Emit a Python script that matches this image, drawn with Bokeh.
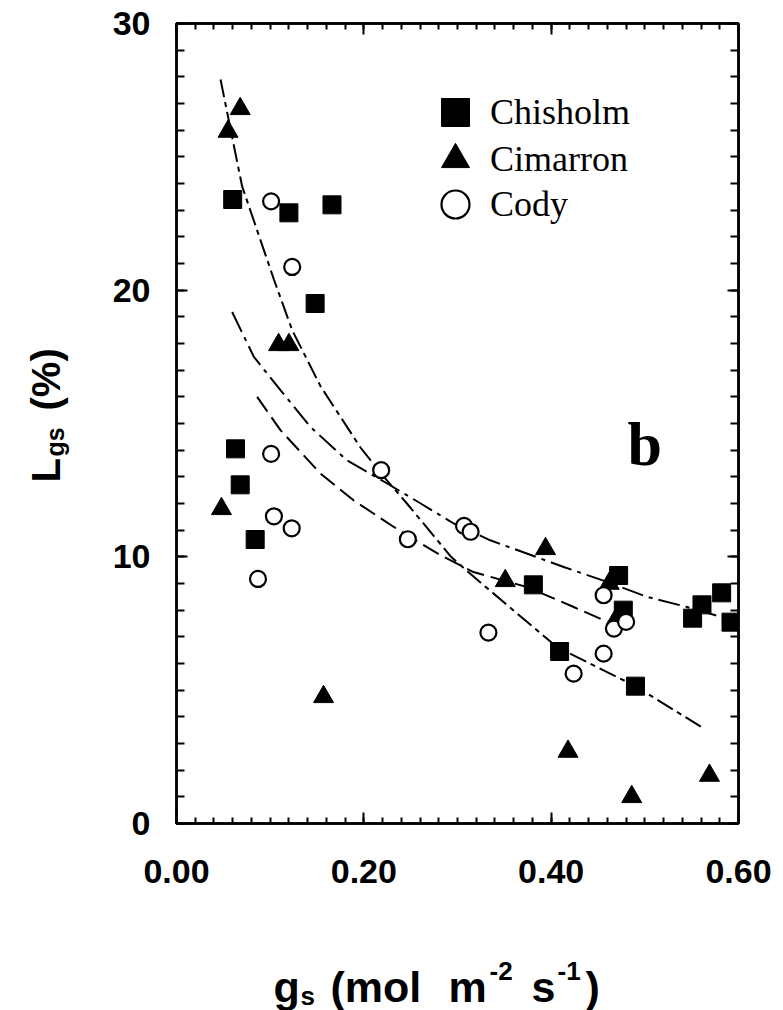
import math
from bokeh.plotting import figure
from bokeh.layouts import row, column
from bokeh.models import (Range1d, LinearAxis, SingleIntervalTicker, NumeralTickFormatter,
                          CustomJSTickFormatter, Label, Legend, LegendItem)
from bokeh.embed import file_html
from bokeh.resources import INLINE

# ---------------- data ----------------
chisholm_gs = [0.060, 0.120, 0.166, 0.148, 0.063, 0.068, 0.084, 0.381, 0.472, 0.477,
               0.409, 0.490, 0.551, 0.561, 0.582, 0.592]
chisholm_lgs = [23.4, 22.9, 23.2, 19.5, 14.05, 12.7, 10.65, 8.95, 9.3, 8.0,
                6.45, 5.15, 7.7, 8.2, 8.65, 7.55]

cimarron_gs = [0.068, 0.055, 0.109, 0.120, 0.048, 0.157, 0.351, 0.394, 0.462, 0.470,
               0.418, 0.486, 0.569]
cimarron_lgs = [26.8, 25.95, 17.95, 17.95, 11.8, 4.75, 9.1, 10.3, 9.0, 7.7,
                2.7, 1.0, 1.8]

cody_gs = [0.101, 0.1235, 0.101, 0.104, 0.123, 0.087, 0.2185, 0.247, 0.307, 0.314,
           0.333, 0.424, 0.456, 0.456, 0.467, 0.480]
cody_lgs = [23.33, 20.87, 13.86, 11.52, 11.07, 9.17, 13.25, 10.66, 11.16, 10.94,
            7.16, 5.62, 6.37, 8.56, 7.31, 7.56]

# fitted curves
fit_cimarron_gs = [0.047, 0.070, 0.104, 0.1235, 0.1537, 0.1964, 0.2178, 0.246, 0.2931,
                   0.3174, 0.406, 0.490, 0.563]
fit_cimarron_lgs = [27.9, 23.9, 20.4, 18.5, 16.4, 14.1, 13.15, 12.0, 10.0,
                    9.25, 6.62, 5.15, 3.56]

fit_chisholm_gs = [0.0594, 0.0826, 0.111, 0.143, 0.182, 0.225, 0.2607, 0.296, 0.335,
                   0.4134, 0.4597, 0.5024, 0.545, 0.5997]
fit_chisholm_lgs = [19.18, 17.5, 16.25, 14.87, 13.62, 12.75, 12.0, 11.25, 10.62,
                    9.62, 9.06, 8.5, 8.12, 7.56]

fit_cody_gs = [0.0861, 0.111, 0.1537, 0.189, 0.232, 0.2607, 0.282, 0.317, 0.374, 0.424, 0.46]
fit_cody_lgs = [16.0, 14.75, 13.12, 12.12, 11.12, 10.5, 10.06, 9.43, 8.87, 8.12, 7.56]

x_min, x_max = 0.0, 0.6
y_min, y_max = 0.0, 30.0
x_ticks_interval = 0.2
y_ticks_interval = 10

# ---------------- layout geometry (canvas pixels) ----------------
W, H = 783, 1010
LEFT_W = 90            # strip holding the y-axis title
MAIN_H = 900           # main figure height; strip below holds the x-axis title
FL, FR, FT, FB = 176, 45, 23, 823   # frame edges in canvas pixels (FR = right border)

TICK_FONT = "Liberation Sans"

p = figure(width=W - LEFT_W, height=MAIN_H, output_backend="svg", toolbar_location=None,
           x_range=Range1d(x_min, x_max + 1e-9), y_range=Range1d(y_min, y_max + 1e-9),
           x_axis_type=None, y_axis_type=None,
           min_border_left=FL - LEFT_W, min_border_right=FR, min_border_top=FT,
           min_border_bottom=MAIN_H - FB)
p.outline_line_color = "black"
p.outline_line_width = 2.5
p.background_fill_color = "white"
p.border_fill_color = "white"


def style_axis(ax, labelled, standoff):
    ax.major_tick_in = 11
    ax.major_tick_out = 0
    ax.minor_tick_in = 6
    ax.minor_tick_out = 0
    ax.axis_line_width = 2.5
    ax.axis_line_color = "black"
    ax.major_tick_line_width = 2
    ax.minor_tick_line_width = 2
    ax.major_tick_line_color = "black"
    ax.minor_tick_line_color = "black"
    ax.major_label_text_font = TICK_FONT
    ax.major_label_text_font_style = "bold"
    ax.major_label_text_font_size = "34px" if labelled else "1px"
    ax.major_label_text_color = "black"
    ax.major_label_standoff = standoff


xb = LinearAxis(ticker=SingleIntervalTicker(interval=x_ticks_interval, num_minor_ticks=10),
                formatter=NumeralTickFormatter(format="0.00"))
style_axis(xb, True, 36)
p.add_layout(xb, "below")

xt = LinearAxis(ticker=SingleIntervalTicker(interval=x_ticks_interval, num_minor_ticks=10),
                formatter=CustomJSTickFormatter(code="return ''"))
style_axis(xt, False, 0)
p.add_layout(xt, "above")

yl = LinearAxis(ticker=SingleIntervalTicker(interval=y_ticks_interval, num_minor_ticks=10),
                formatter=NumeralTickFormatter(format="0"))
style_axis(yl, True, 26)
yl.minor_tick_in = 8
p.add_layout(yl, "left")

yr = LinearAxis(ticker=SingleIntervalTicker(interval=y_ticks_interval, num_minor_ticks=10),
                formatter=CustomJSTickFormatter(code="return ''"))
style_axis(yr, False, 0)
yr.minor_tick_in = 8
p.add_layout(yr, "right")

# ---------------- curves ----------------
p.line(fit_cimarron_gs, fit_cimarron_lgs, line_color="black", line_width=2, line_dash="18 5 5 5")
p.line(fit_chisholm_gs, fit_chisholm_lgs, line_color="black", line_width=2, line_dash="22 6 4 6")
p.line(fit_cody_gs, fit_cody_lgs, line_color="black", line_width=2, line_dash="18 7")

# ---------------- points ----------------
r_sq = p.scatter(chisholm_gs, chisholm_lgs, marker="square", size=18,
                 fill_color="black", line_color="black", line_width=1)
r_tri = p.scatter(cimarron_gs, cimarron_lgs, marker="triangle", size=20,
                  fill_color="black", line_color="black", line_width=1)
r_ci = p.scatter(cody_gs, cody_lgs, marker="circle", size=16,
                 fill_color="white", line_color="black", line_width=2.2)

# ---------------- legend (one block per row so rows sit 46 px apart) ----------------
legend_rows = [("Chisholm", r_sq, 112), ("Cimarron", r_tri, 159), ("Cody", r_ci, 204)]
for name, rend, cy in legend_rows:
    lg = Legend(items=[LegendItem(label=name, renderers=[rend])],
                location=(420 - FL, FB - (cy + 37)), glyph_width=70, glyph_height=74,
                padding=0, margin=0, label_standoff=0, spacing=0,
                label_text_font="Liberation Serif", label_text_font_size="36px",
                label_text_color="black",
                border_line_alpha=0, background_fill_alpha=0)
    p.add_layout(lg)

# ---------------- panel letter ----------------
p.add_layout(Label(x=627 - FL, y=FB - 443, x_units="screen", y_units="screen", text="b",
                   text_font="Liberation Serif", text_font_style="bold",
                   text_font_size="62px", text_baseline="alphabetic", text_align="left",
                   text_color="black"))


# ---------------- title strips (data units == canvas pixels, y flipped) ----------------
def strip(w, h, bl, br, bt, bb, x0, y_top):
    # x0: canvas x of strip's left edge, y_top: canvas y of strip's top edge
    f = figure(width=w, height=h, output_backend="svg", toolbar_location=None,
               x_range=Range1d(x0 + bl, x0 + w - br),
               y_range=Range1d(H - (y_top + h - bb), H - (y_top + bt)),
               x_axis_type=None, y_axis_type=None,
               min_border_left=bl, min_border_right=br, min_border_top=bt, min_border_bottom=bb)
    f.outline_line_color = None
    f.background_fill_color = "white"
    f.border_fill_color = "white"
    return f


left = strip(LEFT_W, H, 0, 0, FT, H - FB, 0, 0)
bottom = strip(W - LEFT_W, H - MAIN_H, FL - LEFT_W, FR, 0, 0, LEFT_W, MAIN_H)


def piece(fig, cx, cy, txt, size, angle=0.0):
    fig.add_layout(Label(x=cx, y=H - cy, text=txt, text_font=TICK_FONT,
                         text_font_style="bold", text_font_size=f"{size}px",
                         text_baseline="alphabetic", text_align="left",
                         text_color="black", angle=angle))


# x title: g_s (mol m^-2 s^-1)
piece(bottom, 273, 986, "g", 43)
piece(bottom, 300, 995, "s", 26)
piece(bottom, 330, 986, "(mol", 43)
piece(bottom, 448, 986, "m", 43)
piece(bottom, 489, 970, "-2", 26)
piece(bottom, 531, 986, "s", 43)
piece(bottom, 557, 970, "-1", 26)
piece(bottom, 585, 986, ")", 43)

# y title: L_gs (%)
A = math.pi / 2
piece(left, 45, 482, "L", 40, A)
piece(left, 54, 456, "gs", 25, A)
piece(left, 45, 410, "(%)", 40, A)

layout = row(left, column(p, bottom, spacing=0), spacing=0)
open("out.html", "w").write(file_html(layout, INLINE))
